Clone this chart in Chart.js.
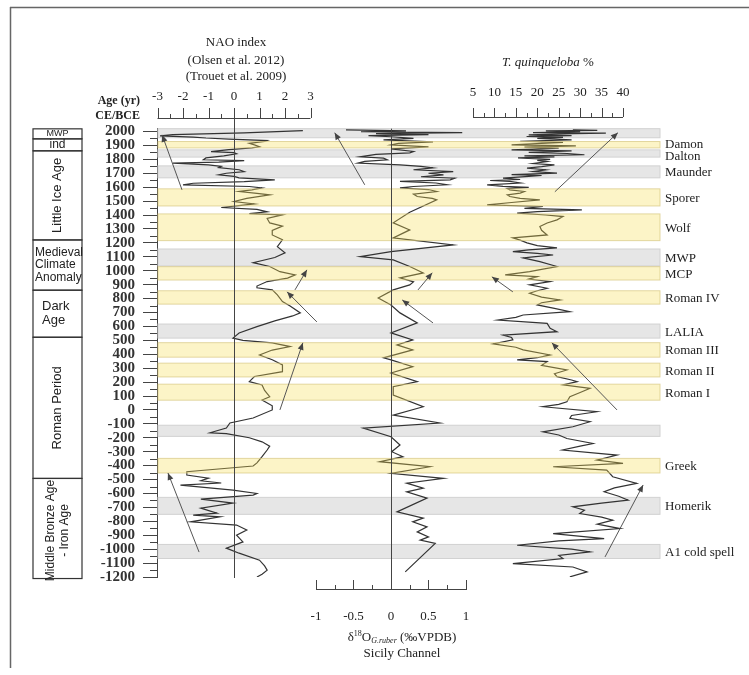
<!DOCTYPE html>
<html>
<head>
<meta charset="utf-8">
<script src="https://cdn.jsdelivr.net/npm/chart.js@4.4.1/dist/chart.umd.min.js"></script>
<style>
  html, body { margin: 0; padding: 0; background: #fff; }
  #wrap { position: relative; width: 749px; height: 675px; }
</style>
</head>
<body>
<div id="wrap"><canvas id="c" width="749" height="675"></canvas></div>
<script>
// NAO index (Olsen et al. 2012 / Trouet et al. 2009)
const naoAge = [2006,1990,1978,1968,1960,1953,1945,1935,1928,1915,1904,1890,1882,1870,1856,1848,1840,1825,1810,1797,1790,1780,1773,1760,1750,1741,1725,1712,1700,1689,1678,1667,1653,1640,1628,1617,1605,1595,1580,1569,1555,1545,1520,1497,1480,1465,1454,1440,1423,1410,1401,1375,1343,1320,1290,1257,1222,1173,1128,1095,1058,1030,993,970,947,922,890,877,862,826,778,746,697,675,640,598,553,516,500,481,455,430,395,360,323,275,240,203,179,140,95,71,30,0,-58,-94,-130,-164,-170,-200,-229,-260,-288,-336,-380,-403,-444,-468,-490,-509,-525,-540,-576,-600,-612,-641,-669,-705,-741,-756,-768,-804,-827,-863,-899,-948,-993,-1029,-1079,-1120,-1151,-1180,-1200];
const naoIndex = [2.7,0.4,-2.4,-2.9,-1.6,-1.1,-0.2,1.3,1.2,0.6,0.8,1.0,0.7,-0.2,-0.9,0.0,0.1,-0.4,-1.1,-1.2,0.4,-0.6,-2.4,-1.0,-0.5,-0.6,0.2,0.4,-0.3,-0.6,0.0,0.2,1.6,0.4,-1.6,-2.0,0.6,1.1,0.7,0.2,0.9,1.4,0.5,0.0,0.8,0.1,-0.5,0.9,1.3,0.6,1.9,1.3,1.4,1.9,1.5,1.5,1.9,1.7,2.0,1.6,0.75,1.4,1.8,2.4,2.1,1.3,0.9,0.9,1.5,1.7,1.9,2.2,2.6,2.3,1.6,0.9,0.2,-0.04,0.35,1.5,2.2,1.5,1.0,1.5,1.9,1.9,0.8,0.6,1.1,1.2,1.4,1.1,1.5,1.5,0.75,-0.16,-0.3,-0.94,-0.3,0.6,1.1,1.4,1.3,1.1,0.9,0.75,-1.85,-1.85,-1.0,-1.3,-0.5,-2.1,-0.04,0.9,0.75,-1.3,-0.04,-1.3,-0.67,-1.6,-0.55,-1.7,0.1,0.5,0.1,0.35,-0.3,0.2,1.0,1.2,1.3,1.1,0.9];

// d18O G. ruber, Sicily Channel (permil VPDB)
const d18Age = [2012,2005,1998,1992,1985,1978,1970,1962,1950,1940,1926,1915,1904,1890,1875,1856,1847,1835,1818,1808,1797,1785,1773,1760,1750,1739,1725,1712,1700,1689,1675,1665,1653,1641,1630,1617,1605,1595,1583,1569,1550,1533,1520,1509,1420,1344,1293,1236,1185,1137,1101,1078,1030,984,948,920,898,862,804,754,697,625,553,503,467,431,374,359,311,265,203,167,107,23,-37,-94,-130,-193,-252,-300,-336,-372,-408,-456,-492,-526,-562,-588,-633,-732,-777,-804,-840,-876,-912,-935,-959,-1163];
const d18Val = [-0.6,0.2,-0.4,0.95,-0.2,0.5,-0.3,0.0,0.3,-0.1,0.56,0.1,0.0,0.5,0.0,0.3,0.25,-0.2,-0.41,-0.1,-0.05,-0.35,-0.44,0.12,0.4,0.56,0.3,0.83,0.5,0.7,0.4,0.85,0.79,0.12,0.6,0.75,0.3,0.12,0.5,0.61,0.3,0.35,0.55,0.61,0.25,0.03,0.25,0.03,0.83,0.0,-0.41,0.03,0.25,0.43,0.12,0.3,0.25,0.03,-0.17,0.0,0.12,0.35,0.0,0.29,0.08,0.29,-0.1,0.0,0.29,0.0,0.35,0.03,0.03,0.43,0.03,0.65,-0.37,0.0,0.12,0.01,0.16,-0.15,0.52,0.0,0.7,0.21,0.43,0.21,0.48,0.08,0.43,0.29,0.48,0.35,0.5,0.39,0.59,0.19];

// T. quinqueloba %
const tqAge = [2012,2008,2004,1998,1992,1988,1982,1976,1970,1964,1958,1950,1940,1930,1922,1915,1904,1896,1888,1880,1868,1860,1850,1842,1833,1825,1818,1811,1800,1792,1784,1770,1760,1748,1737,1725,1712,1701,1690,1684,1677,1665,1655,1648,1641,1630,1617,1606,1598,1590,1581,1569,1557,1545,1533,1520,1509,1490,1473,1461,1448,1437,1425,1413,1400,1389,1365,1343,1317,1290,1257,1236,1220,1200,1180,1164,1150,1137,1125,1113,1100,1092,1065,1030,1010,993,970,958,940,922,898,874,856,838,810,790,770,754,730,706,682,665,646,630,622,587,562,538,520,503,474,450,431,395,375,359,347,320,287,260,239,215,203,180,155,125,95,59,40,23,-13,-40,-61,-85,-121,-157,-180,-205,-241,-260,-288,-324,-360,-384,-408,-432,-480,-528,-560,-588,-620,-648,-670,-696,-720,-744,-770,-792,-820,-852,-888,-924,-940,-972,-1000,-1020,-1045,-1068,-1104,-1128,-1163,-1199];
const tqVal = [28.3,34,22,30,19,36,25,18,28,17.5,26,20,28,16,26,21,14,29,17,25,14,28,18,27,31,17,24,15.5,23,20,22.3,19,24,21,17.6,22,19,24.6,14,21,18,12,16,9,13.6,16,8.3,12,18,13,13.6,17,16,13,13.6,16,20.6,14,8.3,21.3,17,30.4,20,15.3,22,26,24.6,22.3,20.6,21,22.3,14.3,16,17.6,20,24.6,18,14.3,20,23.7,19,16.7,20.6,24.6,21,18.2,12.5,20,18,23,18.2,22.3,20,18.2,21,25.3,21,20,24,27.6,16.7,15,10.8,18,22.3,23,24.6,12,14,14.3,9.7,15,16.7,23,20,15.3,22.3,21,26.9,24,24.6,28,29.3,26,32.3,30,27.6,26.9,25,21.3,33.9,28,27.6,32.3,28.3,21.3,25,26.9,33,30,25.9,38.6,33.9,40,23.7,36.2,37.6,43.2,38,35.6,39,41.2,35,28.3,31,29.9,35,37.6,34,39.3,23.7,35.6,25,15.3,28,32.3,25,26,14.3,28.3,31.6,27.6];

// climate event bands (age CE/BCE)
const bandTop    = [2020,1928,1868,1753,1588,1408,1156,1029,856,617,483,336,185,-110,-348,-628,-966];
const bandBottom = [1955,1882,1816,1667,1465,1216,1034,933,760,516,379,237,70,-190,-453,-750,-1067];
const bandKind   = ['g','y','g','g','y','y','g','y','y','g','y','y','y','g','y','g','g'];
const bandLabel  = ['','Damon','Dalton','Maunder','Sporer','Wolf','MWP','MCP','Roman IV','LALIA','Roman III','Roman II','Roman I','','Greek','Homerik','A1 cold spell'];
const labelAge   = [0,1913,1830,1710,1526,1312,1095,981,808,566,431,286,127,0,-400,-689,-1016];

// cultural periods column
const periodEdges = [2019,1947,1861,1221,860,522,-492,-1211];
const periodLabels = ['MWP','ind','Little Ice Age','Medieval Climate Anomaly','Dark Age','Roman Period','Middle Bronze Age - Iron Age'];

// tick labels of the small rulers
const naoTicks = [-3,-2,-1,0,1,2,3];
const tqTicks = [5,10,15,20,25,30,35,40];
const d18Ticks = [-1,-0.5,0,0.5,1];

// annotation arrows: [axis, tailValue, tailAge, headValue, headAge]
const arrows = [
  ['xN',-2.04,1581,-2.82,1976],
  ['xN',3.25,632,2.08,848],
  ['xN',2.39,862,2.86,1006],
  ['xN',1.8,0,2.7,482],
  ['xN',-1.37,-1021,-2.59,-453],
  ['xD',-0.35,1617,-0.75,1991],
  ['xD',0.36,862,0.55,985],
  ['xD',0.56,625,0.15,790],
  ['xT',24.1,1567,38.8,1991],
  ['xT',14.3,848,9.4,956],
  ['xT',38.6,0,23.4,482],
  ['xT',35.8,-1056,44.7,-539]
];

const pts = (ages, vals) => ages.map((a, i) => ({ x: vals[i], y: a }));
const SERIF = '"Liberation Serif", "Times New Roman", serif';
const SANS = '"Liberation Sans", Arial, sans-serif';

function line(ctx, x1, y1, x2, y2) {
  ctx.beginPath(); ctx.moveTo(x1, y1); ctx.lineTo(x2, y2); ctx.stroke();
}

const decor = {
  id: 'decor',
  beforeDatasetsDraw(chart) {
    const { ctx, chartArea: a, scales: { y } } = chart;
    ctx.save();
    bandTop.forEach((t, i) => {
      if (bandKind[i] !== 'g') return;
      const y1 = y.getPixelForValue(t), y2 = y.getPixelForValue(bandBottom[i]);
      ctx.fillStyle = '#e6e6e6';
      ctx.fillRect(a.left + 1, y1, a.right - a.left - 1, y2 - y1);
      ctx.strokeStyle = '#d2d2d2'; ctx.lineWidth = 1;
      ctx.strokeRect(a.left + 1, y1, a.right - a.left - 1, y2 - y1);
    });
    ctx.restore();
  },
  afterDatasetsDraw(chart) {
    const { ctx, chartArea: a, scales } = chart;
    const y = scales.y;
    ctx.save();
    // yellow bands lie over the curves
    bandTop.forEach((t, i) => {
      if (bandKind[i] !== 'y') return;
      const y1 = y.getPixelForValue(t), y2 = y.getPixelForValue(bandBottom[i]);
      ctx.fillStyle = 'rgba(245,222,80,0.32)';
      ctx.fillRect(a.left + 1, y1, a.right - a.left - 1, y2 - y1);
      ctx.strokeStyle = 'rgba(215,200,130,0.7)'; ctx.lineWidth = 1;
      ctx.strokeRect(a.left + 1, y1, a.right - a.left - 1, y2 - y1);
    });
    // zero lines
    ctx.strokeStyle = '#444'; ctx.lineWidth = 1;
    const xn0 = Math.round(scales.xN.getPixelForValue(0)) + 0.5;
    line(ctx, xn0, 118, xn0, y.getPixelForValue(-1200) + 1);
    const xd0 = Math.round(scales.xD.getPixelForValue(0)) + 0.5;
    line(ctx, xd0, y.getPixelForValue(2020), xd0, 589);
    // arrows
    ctx.strokeStyle = '#555'; ctx.fillStyle = '#444'; ctx.lineWidth = 1;
    arrows.forEach(([ax, tv, ta, hv, ha]) => {
      const s = scales[ax];
      const x1 = s.getPixelForValue(tv), y1 = y.getPixelForValue(ta);
      const x2 = s.getPixelForValue(hv), y2 = y.getPixelForValue(ha);
      line(ctx, x1, y1, x2, y2);
      const ang = Math.atan2(y2 - y1, x2 - x1), L = 7, W = 3;
      ctx.beginPath();
      ctx.moveTo(x2, y2);
      ctx.lineTo(x2 - L * Math.cos(ang) + W * Math.sin(ang), y2 - L * Math.sin(ang) - W * Math.cos(ang));
      ctx.lineTo(x2 - L * Math.cos(ang) - W * Math.sin(ang), y2 - L * Math.sin(ang) + W * Math.cos(ang));
      ctx.closePath(); ctx.fill();
    });
    ctx.restore();
  },
  afterDraw(chart) {
    const { ctx, chartArea: a, scales } = chart;
    const y = scales.y;
    ctx.save();
    ctx.strokeStyle = '#444'; ctx.lineWidth = 1;
    // minor age ticks
    for (let v = -1150; v <= 1950; v += 100) {
      const py = Math.round(y.getPixelForValue(v)) + 0.5;
      line(ctx, a.left - 7, py, a.left, py);
    }
    ctx.fillStyle = '#222';
    ctx.textBaseline = 'middle';
    // band labels
    ctx.font = '13px ' + SERIF; ctx.textAlign = 'left';
    bandLabel.forEach((l, i) => {
      if (!l) return;
      ctx.fillText(l, 665, y.getPixelForValue(labelAge[i]) + 1);
    });
    // NAO ruler
    const xN = scales.xN;
    ctx.font = '13px ' + SERIF; ctx.textAlign = 'center';
    line(ctx, xN.getPixelForValue(-3), 118.5, xN.getPixelForValue(3), 118.5);
    for (let v = -3; v <= 3; v += 0.5) {
      const px = Math.round(xN.getPixelForValue(v)) + 0.5;
      line(ctx, px, 118, px, Number.isInteger(v) ? 108 : 114);
    }
    naoTicks.forEach(v => ctx.fillText(String(v), xN.getPixelForValue(v), 97));
    ctx.fillText('NAO index', 236, 43);
    ctx.fillText('(Olsen et al. 2012)', 236, 61);
    ctx.fillText('(Trouet et al. 2009)', 236, 77);
    // T. quinqueloba ruler
    const xT = scales.xT;
    line(ctx, xT.getPixelForValue(5), 117.5, xT.getPixelForValue(40), 117.5);
    for (let v = 5; v <= 40; v += 2.5) {
      const px = Math.round(xT.getPixelForValue(v)) + 0.5;
      line(ctx, px, 117, px, v % 5 === 0 ? 108 : 113);
    }
    tqTicks.forEach(v => ctx.fillText(String(v), xT.getPixelForValue(v), 93));
    ctx.textAlign = 'left';
    ctx.font = 'italic 13px ' + SERIF;
    const t1 = 'T. quinqueloba', t2 = ' %';
    const w1 = ctx.measureText(t1).width;
    ctx.font = '13px ' + SERIF;
    const w2 = ctx.measureText(t2).width;
    let tx = 548 - (w1 + w2) / 2;
    ctx.font = 'italic 13px ' + SERIF; ctx.fillText(t1, tx, 63);
    ctx.font = '13px ' + SERIF; ctx.fillText(t2, tx + w1, 63);
    // d18O ruler (bottom)
    const xD = scales.xD;
    ctx.textAlign = 'center';
    line(ctx, xD.getPixelForValue(-1), 589.5, xD.getPixelForValue(1), 589.5);
    for (let v = -1; v <= 1.001; v += 0.25) {
      const px = Math.round(xD.getPixelForValue(v)) + 0.5;
      line(ctx, px, 590, px, Math.abs(v * 2 - Math.round(v * 2)) < 1e-6 ? 580 : 585);
    }
    d18Ticks.forEach(v => ctx.fillText(String(v), xD.getPixelForValue(v), 617));
    // d18O title with super/subscripts
    const parts = [
      ['δ', '13px ' + SERIF, 0],
      ['18', '8px ' + SERIF, -4],
      ['O', '13px ' + SERIF, 0],
      ['G.ruber', 'italic 8px ' + SERIF, 3],
      [' (‰VPDB)', '13px ' + SERIF, 0]
    ];
    let tw = 0;
    parts.forEach(p => { ctx.font = p[1]; tw += ctx.measureText(p[0]).width; });
    tx = 402 - tw / 2; ctx.textAlign = 'left';
    parts.forEach(p => { ctx.font = p[1]; ctx.fillText(p[0], tx, 638 + p[2]); tx += ctx.measureText(p[0]).width; });
    ctx.font = '13px ' + SERIF; ctx.textAlign = 'center';
    ctx.fillText('Sicily Channel', 402, 654);
    // age axis title
    ctx.font = 'bold 12px ' + SERIF; ctx.textAlign = 'right';
    ctx.fillText('Age (yr)', 140, 101);
    ctx.fillText('CE/BCE', 140, 116);
    // period column
    const bx = 33, bw = 49, cx = bx + bw / 2;
    ctx.strokeStyle = '#333'; ctx.lineWidth = 1.2;
    for (let i = 0; i < periodLabels.length; i++) {
      const y1 = y.getPixelForValue(periodEdges[i]), y2 = y.getPixelForValue(periodEdges[i + 1]);
      ctx.strokeRect(bx, y1, bw, y2 - y1);
      const cy = (y1 + y2) / 2;
      const lbl = periodLabels[i];
      ctx.textAlign = 'center';
      if (i === 0) {
        ctx.font = '9px ' + SANS; ctx.fillText(lbl, cx, cy);
      } else if (i === 1) {
        ctx.font = '12px ' + SANS; ctx.fillText(lbl, cx, cy);
      } else if (i === 2 || i === 5) {
        ctx.save(); ctx.translate(cx, cy); ctx.rotate(-Math.PI / 2);
        ctx.font = '13px ' + SANS; ctx.fillText(lbl, 0, 0); ctx.restore();
      } else if (i === 3) {
        ctx.font = '12px ' + SANS; ctx.textAlign = 'left';
        lbl.split(' ').forEach((w, k) => ctx.fillText(w, bx + 2, cy + (k - 1) * 12.5));
      } else if (i === 4) {
        ctx.font = '13px ' + SANS; ctx.textAlign = 'left';
        lbl.split(' ').forEach((w, k) => ctx.fillText(w, bx + 9, cy + (k - 0.5) * 14));
      } else {
        ctx.save(); ctx.translate(cx, cy + 2); ctx.rotate(-Math.PI / 2);
        ctx.font = '12px ' + SANS;
        const [l1, l2] = lbl.split(' - ');
        ctx.fillText(l1, 0, -7); ctx.fillText('- ' + l2, 0, 7); ctx.restore();
      }
    }
    // figure frame
    ctx.strokeStyle = '#666'; ctx.lineWidth = 1.5;
    line(ctx, 10, 7.5, 749, 7.5);
    line(ctx, 10.5, 7, 10.5, 668);
    ctx.restore();
  }
};

const curve = (ages, vals, axis) => ({
  data: pts(ages, vals), xAxisID: axis, yAxisID: 'y',
  showLine: true, borderColor: '#333', borderWidth: 1.2, pointRadius: 0, tension: 0
});

new Chart(document.getElementById('c'), {
  type: 'scatter',
  data: { datasets: [
    curve(naoAge, naoIndex, 'xN'),
    curve(d18Age, d18Val, 'xD'),
    curve(tqAge, tqVal, 'xT')
  ] },
  options: {
    responsive: false, animation: false, devicePixelRatio: 1,
    layout: { padding: { left: 97, right: 89, top: 128, bottom: 98 } },
    plugins: { legend: { display: false }, tooltip: { enabled: false } },
    scales: {
      y: {
        type: 'linear', position: 'left', min: -1200, max: 2025,
        afterFit: s => { s.width = 60; },
        border: { display: true, color: '#444' },
        grid: { drawOnChartArea: false, tickLength: 14, color: '#444' },
        ticks: { stepSize: 100, includeBounds: false, autoSkip: false, padding: 8, color: '#333',
                 callback: v => String(v),
                 font: { family: SERIF, size: 15, weight: 'bold' } }
      },
      xN: { type: 'linear', position: 'top', display: false, min: -3.02, max: 16.706 },
      xD: { type: 'linear', position: 'bottom', display: false, min: -3.12, max: 3.587 },
      xT: { type: 'linear', position: 'top', display: false, min: -68.73, max: 48.63 }
    }
  },
  plugins: [decor]
});
</script>
</body>
</html>
